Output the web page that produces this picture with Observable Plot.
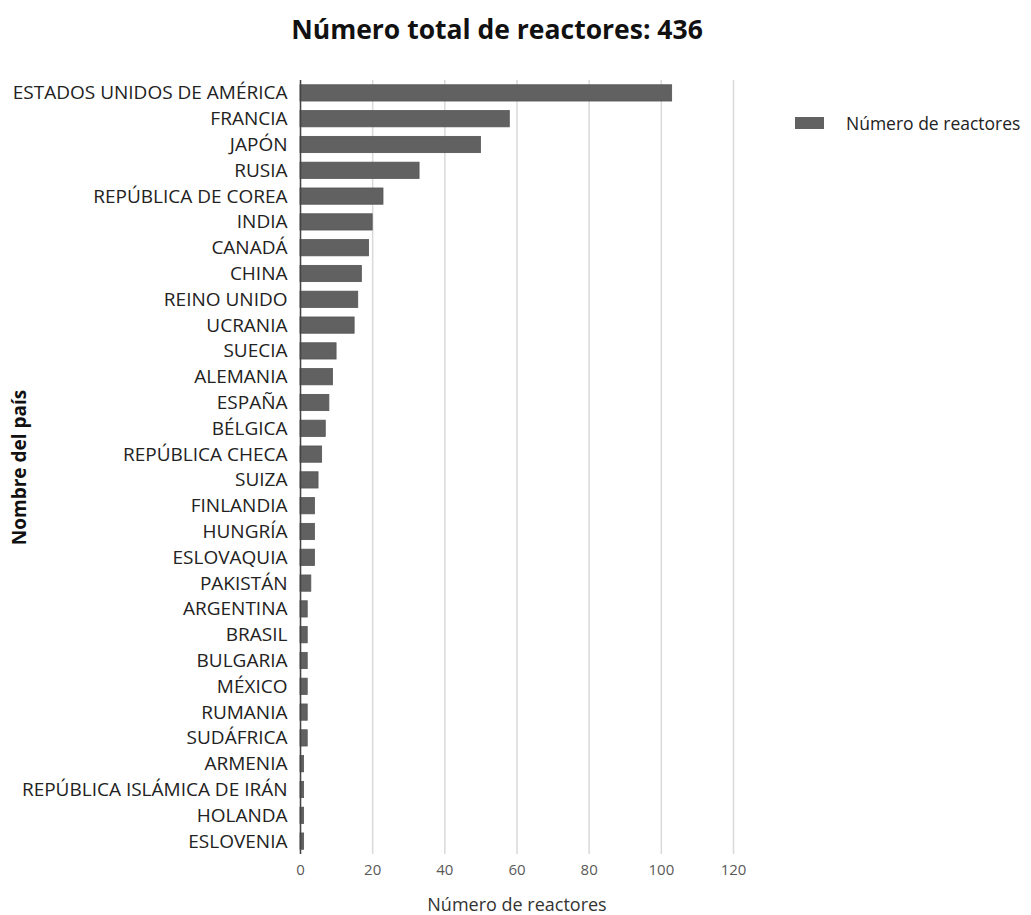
<!DOCTYPE html>
<html>
<head>
<meta charset="utf-8">
<script src="https://cdn.jsdelivr.net/npm/d3@7"></script>
<script src="https://cdn.jsdelivr.net/npm/@observablehq/plot@0.6"></script>
<style>
  body { margin: 0; background: #fff; font-family: "Open Sans", sans-serif; }
  #wrap { position: relative; width: 1031px; height: 915px; overflow: hidden; }
  #title { position: absolute; left: 0; top: 12px; width: 994px; text-align: center; font-size: 26.5px; font-weight: bold; color: #111; line-height: 34px; }
  #chart { position: absolute; left: 0; top: 60px; }
  #legend { position: absolute; left: 795px; top: 111px; font-size: 17.5px; color: #222; display: flex; align-items: center; white-space: nowrap; }
  #legend .sw { width: 29px; height: 12px; background: #616161; margin-right: 22px; }
  [aria-label="y-axis label"] { font-weight: bold; font-size: 19px; fill: #111; }
  [aria-label="x-axis label"] { font-size: 18px; fill: #333; }
</style>
</head>
<body>
<div id="wrap">
  <div id="title">Número total de reactores: 436</div>
  <div id="chart"></div>
  <div id="legend"><div class="sw"></div><span>Número de reactores</span></div>
</div>
<script>
const countries = [
  "ESTADOS UNIDOS DE AMÉRICA", "FRANCIA", "JAPÓN", "RUSIA", "REPÚBLICA DE COREA",
  "INDIA", "CANADÁ", "CHINA", "REINO UNIDO", "UCRANIA",
  "SUECIA", "ALEMANIA", "ESPAÑA", "BÉLGICA", "REPÚBLICA CHECA",
  "SUIZA", "FINLANDIA", "HUNGRÍA", "ESLOVAQUIA", "PAKISTÁN",
  "ARGENTINA", "BRASIL", "BULGARIA", "MÉXICO", "RUMANIA",
  "SUDÁFRICA", "ARMENIA", "REPÚBLICA ISLÁMICA DE IRÁN", "HOLANDA", "ESLOVENIA"
];
const reactors = [
  103, 58, 50, 33, 23,
  20, 19, 17, 16, 15,
  10, 9, 8, 7, 6,
  5, 4, 4, 4, 3,
  2, 2, 2, 2, 2,
  2, 1, 1, 1, 1
];
const xTicks = [0, 20, 40, 60, 80, 100, 120];

const data = countries.map((c, i) => ({country: c, value: reactors[i]}));

const chart = Plot.plot({
  width: 1031,
  height: 855,
  marginLeft: 300,
  marginRight: 298,
  marginTop: 20,
  marginBottom: 61,
  style: { fontFamily: "Open Sans, sans-serif", background: "#fff" },
  x: { domain: [0, 120], ticks: xTicks },
  y: { domain: countries, paddingInner: 0.37, paddingOuter: 0.185, round: false },
  marks: [
    Plot.gridX(xTicks, { stroke: "#d9d9d9", strokeOpacity: 1, strokeWidth: 1.5 }),
    Plot.axisX({ ticks: xTicks, tickSize: 0, tickPadding: 10, fontSize: 15, color: "#595959", label: "Número de reactores", labelAnchor: "center", labelArrow: "none", labelOffset: 56 }),
    Plot.axisY({ tickSize: 0, tickPadding: 13, fontSize: 19, color: "#222", label: "Nombre del país", labelAnchor: "center", labelArrow: "none", labelOffset: 288 }),
    Plot.barX(data, { x: "value", y: "country", fill: "#616161", stroke: "#555", strokeWidth: 0.8 }),
    Plot.ruleX([0], { stroke: "#444", strokeWidth: 1.5 })
  ]
});
document.getElementById("chart").appendChild(chart);
</script>
</body>
</html>
